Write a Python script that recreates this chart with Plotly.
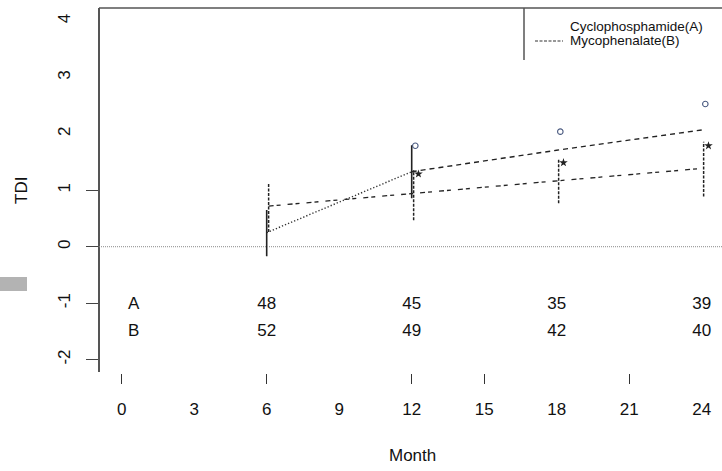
import plotly.graph_objects as go

# ---------------- data ----------------
MONTHS = [6, 12, 18, 24]
A_MEAN = [0.25, 1.33, 1.71, 2.07]          # Cyclophosphamide(A)
B_MEAN = [0.72, 0.95, 1.17, 1.39]          # Mycophenalate(B)
A_BAR_MONTHS = [6, 12]
A_LOW = [-0.17, 0.86]
A_HIGH = [0.65, 1.80]
B_LOW = [0.26, 0.47, 0.77, 0.89]
B_HIGH = [1.13, 1.36, 1.57, 1.86]
SIG_MONTHS = [12, 18, 24]
A_CIRCLES = [1.79, 2.04, 2.53]
B_STARS = [1.29, 1.49, 1.79]
N_A = [48, 45, 35, 39]
N_B = [52, 49, 42, 40]
ROW_LABELS = ["A", "B"]
X_TICKLABELS = [0, 3, 6, 9, 12, 15, 18, 21, 24]
X_TICKMARKS = [0, 6, 12, 15, 21]
Y_TICKLABELS = [4, 3, 2, 1, 0, -1, -2]
Y_TICKMARKS = [1, 0, -1, -2]
LEGEND_NAMES = ["Cyclophosphamide(A)", "Mycophenalate(B)"]

# ---------------- geometry / style ----------------
W, H = 722, 471
ML, MT = 99, 8
PLOT_BOTTOM_PX = 371.7
PW, PH = W - ML, H - MT
XRANGE = [-0.939, 24.84]
YRANGE = [-2.216, 4.232]
YDOM0 = (H - PLOT_BOTTOM_PX) / PH
XAX_POS = (H - 373) / PH
B_DODGE = 0.08
CIRCLE_DODGE = 0.15
STAR_DODGE = 0.28
ROW_A_Y = -1.03
ROW_B_Y = -1.50
ROW_LABEL_X = 0.5
FONT = "Liberation Sans, Arial, sans-serif"
INK = "#111111"


def px_x(p):
    return (p - ML) / PW


def px_y(p):
    return (H - p) / PH


def vsegs(xs, lo, hi, dodge=0.0):
    xx, yy = [], []
    for x, l, h in zip(xs, lo, hi):
        xx += [x + dodge, x + dodge, None]
        yy += [l, h, None]
    return xx, yy


fig = go.Figure()

# A mean line: dotted 6-12, dashed 12-24
fig.add_trace(go.Scatter(x=MONTHS[:2], y=A_MEAN[:2], mode="lines",
                         line=dict(color="#333", width=1.4, dash="1.3px,2px"),
                         showlegend=False, hoverinfo="skip"))
fig.add_trace(go.Scatter(x=MONTHS[1:], y=A_MEAN[1:], mode="lines",
                         line=dict(color="#222", width=1.4, dash="5px,4px"),
                         showlegend=False, hoverinfo="skip"))
# B mean line: dash-dot
fig.add_trace(go.Scatter(x=[m + B_DODGE for m in MONTHS], y=B_MEAN, mode="lines",
                         line=dict(color="#222", width=1.3, dash="5px,3px,4px,7px"),
                         showlegend=False, hoverinfo="skip"))
# A error bars (solid)
ax_, ay_ = vsegs(A_BAR_MONTHS, A_LOW, A_HIGH)
fig.add_trace(go.Scatter(x=ax_, y=ay_, mode="lines",
                         line=dict(color="#222", width=1.6),
                         showlegend=False, hoverinfo="skip"))
# B error bars (dashed)
bx_, by_ = vsegs(MONTHS, B_LOW, B_HIGH, B_DODGE)
fig.add_trace(go.Scatter(x=bx_, y=by_, mode="lines",
                         line=dict(color="#222", width=1.5, dash="3px,1.5px"),
                         showlegend=False, hoverinfo="skip"))
# significance marks
fig.add_trace(go.Scatter(x=[m + CIRCLE_DODGE for m in SIG_MONTHS], y=A_CIRCLES,
                         mode="markers",
                         marker=dict(symbol="circle-open", size=5.5, color="#4a5a80",
                                     line=dict(width=1.1)),
                         showlegend=False, hoverinfo="skip"))
fig.add_trace(go.Scatter(x=[m + STAR_DODGE for m in SIG_MONTHS], y=B_STARS,
                         mode="markers",
                         marker=dict(symbol="star", size=6.5, color="#222"),
                         showlegend=False, hoverinfo="skip"))
# numbers at risk
fig.add_trace(go.Scatter(x=[ROW_LABEL_X] + MONTHS, y=[ROW_A_Y] * 5,
                         text=[ROW_LABELS[0]] + [str(v) for v in N_A], mode="text",
                         textfont=dict(family=FONT, size=17, color=INK),
                         showlegend=False, hoverinfo="skip"))
fig.add_trace(go.Scatter(x=[ROW_LABEL_X] + MONTHS, y=[ROW_B_Y] * 5,
                         text=[ROW_LABELS[1]] + [str(v) for v in N_B], mode="text",
                         textfont=dict(family=FONT, size=17, color=INK),
                         showlegend=False, hoverinfo="skip"))
# empty trace to activate the overlay axes (tick marks / axis line)
fig.add_trace(go.Scatter(x=[None], y=[None], xaxis="x2", yaxis="y2",
                         showlegend=False, hoverinfo="skip"))

shapes = [
    # zero reference line
    dict(type="line", xref="paper", yref="y", x0=0, x1=1, y0=0, y1=0,
         line=dict(color="#8a8a8a", width=1, dash="1px,1px")),
    # top border
    dict(type="line", xref="paper", yref="paper", x0=0, x1=1, y0=1, y1=1,
         line=dict(color="#555", width=1.5)),
    # legend box left edge
    dict(type="line", xref="paper", yref="paper", x0=px_x(524), x1=px_x(524),
         y0=1, y1=px_y(60), line=dict(color="#555", width=1.5)),
    # legend sample line (B)
    dict(type="line", xref="paper", yref="paper", x0=px_x(535), x1=px_x(563),
         y0=px_y(41), y1=px_y(41), line=dict(color="#333", width=1.1, dash="3px,1.5px")),
    # grey block at left edge
    dict(type="rect", xref="paper", yref="paper", x0=px_x(0), x1=px_x(27),
         y0=px_y(291), y1=px_y(277), line=dict(width=0), fillcolor="#b3b3b3"),
]

annotations = [
    dict(text="TDI", xref="paper", yref="paper", x=px_x(21), y=px_y(190),
         textangle=-90, showarrow=False, xanchor="center", yanchor="middle",
         font=dict(family=FONT, size=17, color=INK)),
    dict(text="Month", xref="paper", yref="paper", x=px_x(412), y=px_y(455),
         showarrow=False, xanchor="center", yanchor="middle",
         font=dict(family=FONT, size=17, color=INK)),
    dict(text=LEGEND_NAMES[0], xref="paper", yref="paper", x=px_x(569), y=px_y(26),
         showarrow=False, xanchor="left", yanchor="middle", borderpad=0,
         font=dict(family=FONT, size=13.5, color=INK)),
    dict(text=LEGEND_NAMES[1], xref="paper", yref="paper", x=px_x(569), y=px_y(41),
         showarrow=False, xanchor="left", yanchor="middle", borderpad=0,
         font=dict(family=FONT, size=13.5, color=INK)),
]

fig.update_layout(
    width=W, height=H,
    margin=dict(l=ML, r=0, t=MT, b=0, pad=0),
    paper_bgcolor="white", plot_bgcolor="white",
    font=dict(family=FONT, size=17, color=INK),
    showlegend=False,
    shapes=shapes, annotations=annotations,
    xaxis=dict(domain=[0, 1], range=XRANGE, anchor="free", position=XAX_POS,
               tickmode="array", tickvals=X_TICKLABELS,
               ticktext=[str(v) for v in X_TICKLABELS],
               ticks="", showline=False, showgrid=False, zeroline=False,
               tickfont=dict(family=FONT, size=17, color=INK),
               ticklabelstandoff=24),
    xaxis2=dict(overlaying="x", range=XRANGE, anchor="free", position=XAX_POS,
                tickmode="array", tickvals=X_TICKMARKS, ticks="outside", ticklen=10,
                tickwidth=1.3, tickcolor="#333", showticklabels=False,
                showline=False, showgrid=False, zeroline=False),
    yaxis=dict(domain=[YDOM0, 1], range=YRANGE, anchor="free", position=0,
               tickmode="array", tickvals=Y_TICKLABELS,
               ticktext=[str(v) for v in Y_TICKLABELS],
               ticks="", tickangle=-90, showline=False, showgrid=False,
               zeroline=False, tickfont=dict(family=FONT, size=17, color=INK),
               ticklabelstandoff=26),
    yaxis2=dict(overlaying="y", range=YRANGE, anchor="free", position=0, side="left",
                tickmode="array", tickvals=Y_TICKMARKS, ticks="outside", ticklen=12,
                tickwidth=1.4, tickcolor="#444", showticklabels=False,
                showline=True, linecolor="#555", linewidth=1.5,
                showgrid=False, zeroline=False),
)

fig.write_html("out.html",
               config={"displayModeBar": False},
               post_script="document.body.style.margin='0px';document.body.style.padding='0px';")
